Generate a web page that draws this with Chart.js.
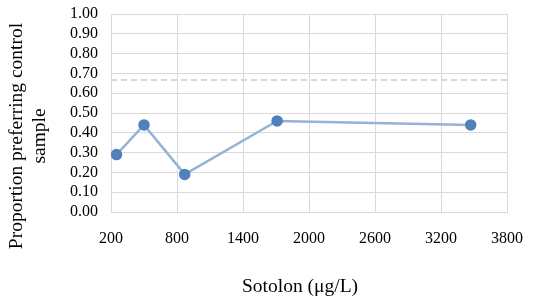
<!DOCTYPE html>
<html>
<head>
<meta charset="utf-8">
<script src="https://cdn.jsdelivr.net/npm/chart.js@4/dist/chart.umd.min.js"></script>
<style>
html,body{margin:0;padding:0;background:#fff;}
#wrap{width:534px;height:302px;position:relative;}
</style>
</head>
<body>
<div id="wrap"><canvas id="c" width="534" height="302"></canvas></div>
<script>
const sotolon = [250, 500, 870, 1710, 3470];
const proportion = [0.29, 0.44, 0.19, 0.46, 0.44];
const thresholdX = [200, 3800];
const thresholdY = [0.667, 0.667];
const xTickValues = [200, 800, 1400, 2000, 2600, 3200, 3800];
const xTitle = 'Sotolon (μg/L)';
const yTitle = ['Proportion preferring control', 'sample'];

const FONT = '"Liberation Serif", "Times New Roman", serif';

const titlePlugin = {
  id: 'titles',
  afterDraw(chart) {
    const ctx = chart.ctx;
    ctx.save();
    ctx.fillStyle = '#000';
    ctx.font = '19.5px ' + FONT;
    ctx.textAlign = 'center';
    ctx.textBaseline = 'middle';
    ctx.fillText(xTitle, 300, 287);
    ctx.translate(0, 136);
    ctx.rotate(-Math.PI / 2);
    ctx.fillText(yTitle[0], 0, 17);
    ctx.fillText(yTitle[1], 0, 40);
    ctx.restore();
  }
};

new Chart(document.getElementById('c'), {
  type: 'scatter',
  data: {
    datasets: [
      {
        data: sotolon.map((x, i) => ({x: x, y: proportion[i]})),
        showLine: true,
        borderColor: '#95b3d7',
        borderWidth: 2.5,
        backgroundColor: '#4f81bd',
        pointBackgroundColor: '#4f81bd',
        pointBorderColor: '#4f81bd',
        pointRadius: 4.5,
        tension: 0,
        order: 1
      },
      {
        data: thresholdX.map((x, i) => ({x: x, y: thresholdY[i]})),
        showLine: true,
        borderColor: '#c9d9ee',
        borderWidth: 2,
        borderDash: [6, 4],
        pointRadius: 0,
        order: 2
      }
    ]
  },
  options: {
    responsive: false,
    animation: false,
    layout: {padding: {top: 14, right: 27, left: 0, bottom: 0}},
    plugins: {legend: {display: false}, tooltip: {enabled: false}},
    scales: {
      x: {
        type: 'linear',
        min: 200, max: 3800,
        afterBuildTicks(s) { s.ticks = xTickValues.map(v => ({value: v})); },
        afterFit(s) { s.height = 90; s.paddingLeft = 0; s.paddingRight = 0; },
        grid: {color: '#d9d9d9', drawTicks: false, lineWidth: 1},
        border: {color: '#d9d9d9'},
        ticks: {color: '#000', font: {family: FONT, size: 16}, padding: 17, maxRotation: 0, autoSkip: false,
          callback: v => String(v)}
      },
      y: {
        min: 0, max: 1,
        afterFit(s) { s.width = 111; s.paddingTop = 0; s.paddingBottom = 0; },
        grid: {color: '#d9d9d9', drawTicks: false, lineWidth: 1},
        border: {color: '#d9d9d9'},
        ticks: {stepSize: 0.1, autoSkip: false, color: '#000', font: {family: FONT, size: 16}, padding: 13,
          callback: v => Number(v).toFixed(2)}
      }
    }
  },
  plugins: [titlePlugin]
});
</script>
</body>
</html>
